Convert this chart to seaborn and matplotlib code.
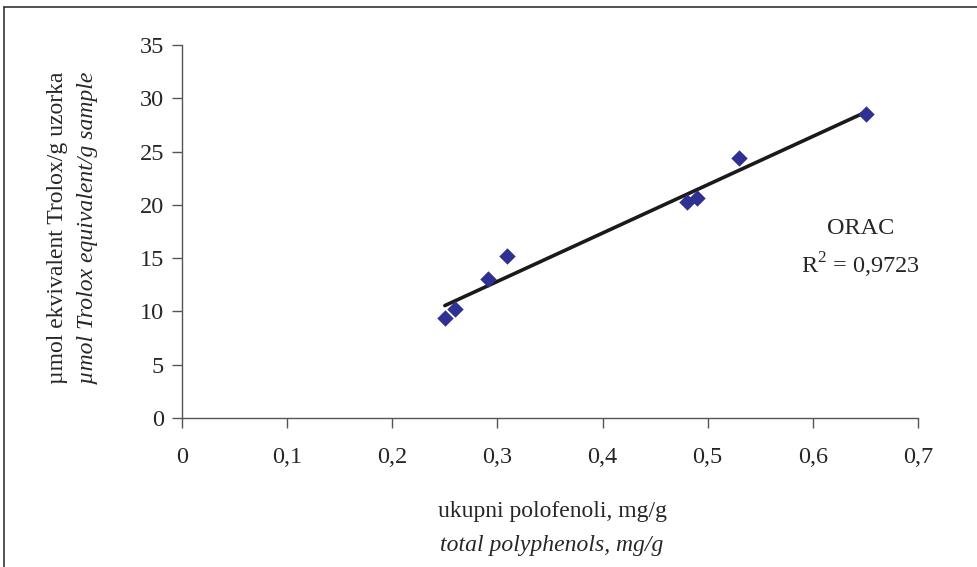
import numpy as np
import pandas as pd
import seaborn as sns
import matplotlib.pyplot as plt
from matplotlib.lines import Line2D

# podaci ocitani sa grafika
polifenoli = [0.25, 0.26, 0.291, 0.309, 0.480, 0.490, 0.530, 0.651]
orac = [9.4, 10.2, 13.0, 15.2, 20.3, 20.6, 24.4, 28.5]
x_ticks = [0, 0.1, 0.2, 0.3, 0.4, 0.5, 0.6, 0.7]
x_labels = ['0', '0,1', '0,2', '0,3', '0,4', '0,5', '0,6', '0,7']
y_ticks = [0, 5, 10, 15, 20, 25, 30, 35]

df = pd.DataFrame({'x': polifenoli, 'y': orac})

sns.set_style('ticks')
plt.rcParams['font.family'] = ['Liberation Serif', 'DejaVu Serif']
plt.rcParams['mathtext.fontset'] = 'custom'
plt.rcParams['mathtext.rm'] = 'Liberation Serif'

fig = plt.figure(figsize=(9.77, 5.67), dpi=100)
ax = fig.add_axes([0.1863, 0.2628, 0.7533, 0.6578])

sns.regplot(data=df, x='x', y='y', ax=ax, ci=None, marker='D',
            scatter_kws={'color': '#2E3192', 's': 70, 'alpha': 1,
                         'linewidths': 0, 'zorder': 3},
            line_kws={'color': '#1a1a1a', 'lw': 2.6, 'zorder': 2})

ax.set_xlim(0, 0.7)
ax.set_ylim(0, 35)
ax.set_xticks(x_ticks)
ax.set_xticklabels(x_labels)
ax.set_yticks(y_ticks)
ax.set_xlabel('')
ax.set_ylabel('')
ax.tick_params(labelsize=17.5, length=7, width=1, color='#555555', pad=14)
ax.tick_params(axis='y', pad=6)
sns.despine(ax=ax)
for s in ['left', 'bottom']:
    ax.spines[s].set_color('#555555')
    ax.spines[s].set_linewidth(1)

# R^2
ax.text(0.645, 17.8, 'ORAC', fontsize=17.5, ha='center', va='center')
ax.text(0.645, 14.3, r'R$^{\mathregular{2}}$ = 0,9723', fontsize=17.5,
        ha='center', va='center')

# naslovi osa
fig.text(57 / 977, 1 - 228 / 567, 'µmol ekvivalent Trolox/g uzorka', rotation=90,
         fontsize=17, ha='center', va='center')
fig.text(88 / 977, 1 - 228 / 567, 'µmol Trolox equivalent/g sample', rotation=90,
         fontsize=17, ha='center', va='center', style='italic')
fig.text(552 / 977, 1 - 511 / 567, 'ukupni polofenoli, mg/g', fontsize=17,
         ha='center', va='center')
fig.text(552 / 977, 1 - 545 / 567, 'total polyphenols, mg/g', fontsize=17,
         ha='center', va='center', style='italic')

# okvir
fig.add_artist(Line2D([4 / 977, 4 / 977], [0, 1 - 7 / 567], color='#333333', lw=1.2))
fig.add_artist(Line2D([4 / 977, 1], [1 - 7 / 567, 1 - 7 / 567], color='#333333', lw=1.2))

fig.savefig('out.png', dpi=100)
